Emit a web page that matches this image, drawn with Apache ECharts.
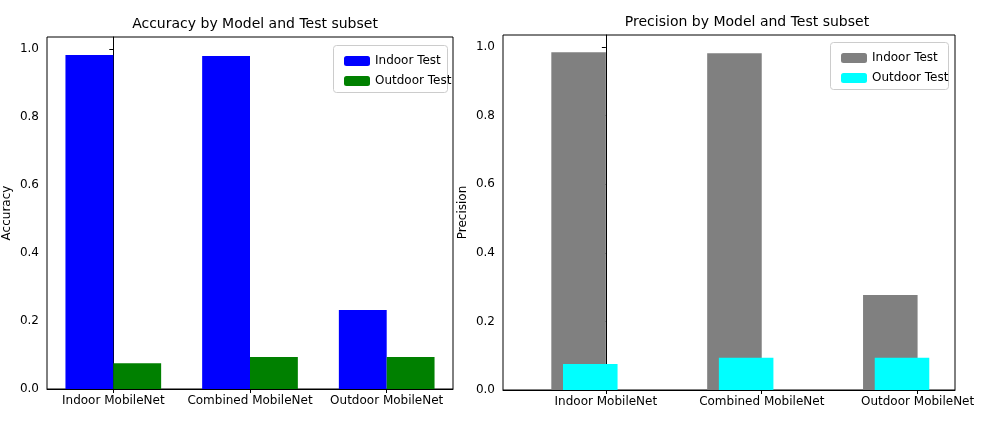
<!DOCTYPE html>
<html><head><meta charset="utf-8">
<script src="https://cdn.jsdelivr.net/npm/echarts@6/dist/echarts.min.js"></script>
<style>body{margin:0;background:#fff}#main{width:983px;height:423px}</style>
</head><body><div id="main"></div>
<script>
var models = ['Indoor MobileNet', 'Combined MobileNet', 'Outdoor MobileNet'];
var accIndoor = [0.982, 0.979, 0.232];
var accOutdoor = [0.076, 0.094, 0.094];
var precIndoor = [0.985, 0.982, 0.277];
var precOutdoor = [0.076, 0.094, 0.094];

var font = 'DejaVu Sans';
var chart = echarts.init(document.getElementById('main'));

// bar drawn between x0 and x1 in data units
function barSeries(name, xi, yi, vals, off, w, color) {
	return {
		name: name, type: 'custom', xAxisIndex: xi, yAxisIndex: yi,
		itemStyle: {color: color},
		data: vals.map(function (v, i) { return [i + off, v]; }),
		renderItem: function (params, api) {
			var c = api.value(0), v = api.value(1);
			var p0 = api.coord([c - w / 2, v]);
			var p1 = api.coord([c + w / 2, 0]);
			return {type: 'rect', shape: {x: p0[0], y: p0[1], width: p1[0] - p0[0], height: p1[1] - p0[1]},
				style: {fill: color}};
		}
	};
}
function xAx(gi, min, max) {
	return {
		type: 'value', gridIndex: gi, min: min, max: max, splitLine: {show: false},
		axisLine: {onZero: false, lineStyle: {color: '#000'}},
		axisTick: {show: true, customValues: [0, 1, 2], length: 4, lineStyle: {color: '#000'}},
		axisLabel: {customValues: [0, 1, 2], color: '#000', fontFamily: font, fontSize: 12, margin: 6,
			formatter: function (v) { return models[Math.round(v)]; }}
	};
}
function yAx(gi, name) {
	return {
		type: 'value', gridIndex: gi, min: 0, max: 1.035, interval: 0.2, splitLine: {show: false},
		name: name, nameLocation: 'middle', nameGap: 34, nameTextStyle: {color: '#000', fontFamily: font, fontSize: 12},
		axisLine: {show: true, lineStyle: {color: '#000'}},
		axisTick: {show: true, length: 4, lineStyle: {color: '#000'}},
		axisLabel: {color: '#000', fontFamily: font, fontSize: 12, showMaxLabel: false,
			formatter: function (v) { return v.toFixed(1); }}
	};
}
function box(left, top, w) {
	return {type: 'rect', left: left, top: top, shape: {width: w, height: 47, r: 3},
		style: {fill: '#fff', stroke: '#ccc', lineWidth: 1}, z: 5};
}

chart.setOption({
	animation: false,
	title: [
		{text: 'Accuracy by Model and Test subset', left: 250, top: 12, textAlign: 'center',
			textStyle: {fontFamily: font, fontSize: 14, fontWeight: 'normal', color: '#000'}},
		{text: 'Precision by Model and Test subset', left: 742, top: 10, textAlign: 'center',
			textStyle: {fontFamily: font, fontSize: 14, fontWeight: 'normal', color: '#000'}}
	],
	graphic: [box(333, 45, 114), box(830, 42, 118)],
	legend: [
		{data: ['Indoor Test', 'Outdoor Test'], orient: 'vertical', left: 339, top: 50, itemGap: 8,
			itemWidth: 26, itemHeight: 10, z: 10, textStyle: {fontFamily: font, fontSize: 12, color: '#000'}},
		{data: ['Indoor Test ', 'Outdoor Test '], orient: 'vertical', left: 836, top: 47, itemGap: 8,
			itemWidth: 26, itemHeight: 10, z: 10, textStyle: {fontFamily: font, fontSize: 12, color: '#000'}}
	],
	grid: [
		{left: 47, right: 530, top: 37, bottom: 34, show: true, borderColor: '#000', borderWidth: 1},
		{left: 503, right: 28, top: 35, bottom: 33, show: true, borderColor: '#000', borderWidth: 1}
	],
	xAxis: [xAx(0, -0.485, 2.485), xAx(1, -0.66, 2.24)],
	yAxis: [yAx(0, 'Accuracy'), yAx(1, 'Precision')],
	series: [
		barSeries('Indoor Test', 0, 0, accIndoor, -0.175, 0.35, '#0000ff'),
		barSeries('Outdoor Test', 0, 0, accOutdoor, 0.175, 0.35, '#008000'),
		barSeries('Indoor Test ', 1, 1, precIndoor, -0.175, 0.35, '#808080'),
		barSeries('Outdoor Test ', 1, 1, precOutdoor, -0.1, 0.35, '#00ffff')
	]
});
</script></body></html>
